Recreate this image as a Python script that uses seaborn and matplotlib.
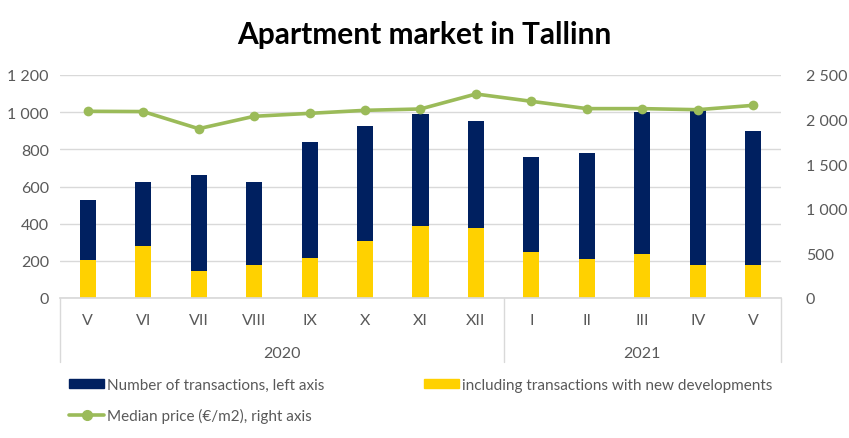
import matplotlib
matplotlib.use("Agg")
import pandas as pd
import numpy as np
import seaborn as sns
import matplotlib.pyplot as plt
from matplotlib.lines import Line2D
from matplotlib.patches import Patch
from matplotlib.ticker import FuncFormatter

# data
months = ['V', 'VI', 'VII', 'VIII', 'IX', 'X', 'XI', 'XII', 'I', 'II', 'III', 'IV', 'V']
years = ['2020'] * 8 + ['2021'] * 5
transactions = [527, 624, 662, 624, 840, 926, 990, 952, 759, 780, 1003, 1010, 899]
new_developments = [204, 280, 145, 178, 215, 307, 387, 377, 248, 210, 237, 178, 178]
median_price = [2093, 2090, 1898, 2037, 2070, 2104, 2119, 2287, 2205, 2123, 2123, 2111, 2160]

navy = '#002060'
yellow = '#FFD100'
green = '#9BBB59'
grey = '#595959'

sns.set_theme(style='white')
plt.rcParams['font.family'] = ['Lato', 'DejaVu Sans']

df = pd.DataFrame({'pos': [f'{i}' for i in range(len(months))],
                   'x': np.arange(len(months)),
                   'total': transactions, 'new': new_developments,
                   'price': median_price})

fig = plt.figure(figsize=(8.49, 4.39), dpi=100)
ax = fig.add_axes([60/849, 140/439, 721/849, 223/439])

sns.barplot(data=df, x='pos', y='total', color=navy, width=0.29, saturation=1,
            linewidth=0, ax=ax)
sns.barplot(data=df, x='pos', y='new', color=yellow, width=0.29, saturation=1,
            linewidth=0, ax=ax)
ax.set_xlim(-0.5, len(months) - 0.5)
ax.set_ylim(0, 1200)
ax.set_yticks(range(0, 1201, 200))
ax.yaxis.grid(True, color='#D9D9D9', linewidth=1)
ax.set_axisbelow(True)
ax.set_xlabel('')
ax.set_ylabel('')
ax.set_xticks(range(len(months)))
ax.set_xticklabels(months)
ax.tick_params(axis='both', length=0, labelsize=11.5, colors=grey)
ax.tick_params(axis='x', pad=11)
ax.tick_params(axis='y', pad=8)
fmt = FuncFormatter(lambda v, p: f'{int(v):,}'.replace(',', ' '))
ax.yaxis.set_major_formatter(fmt)
for s in ['top', 'right', 'left']:
    ax.spines[s].set_visible(False)
ax.spines['bottom'].set_color('#D9D9D9')

ax2 = ax.twinx()
sns.lineplot(data=df, x='x', y='price', color=green, linewidth=2.6, marker='o',
             markersize=7, markeredgewidth=0, ax=ax2)
ax2.set_ylim(0, 2500)
ax2.set_yticks(range(0, 2501, 500))
ax2.yaxis.set_major_formatter(fmt)
ax2.set_ylabel('')
ax2.tick_params(axis='y', length=0, labelsize=11.5, colors=grey, pad=18)
for s in ax2.spines.values():
    s.set_visible(False)

# year grouping under the month labels
trans = ax.get_xaxis_transform()
for xb in [-0.5, 7.5, 12.5]:
    ax.add_line(Line2D([xb, xb], [0, -0.285], transform=trans, color='#D9D9D9',
                       linewidth=1, clip_on=False))
ax.text(3.5, -0.245, '2020', transform=trans, ha='center', va='center', fontsize=11.5, color=grey)
ax.text(10, -0.245, '2021', transform=trans, ha='center', va='center', fontsize=11.5, color=grey)

fig.text(0.5, 1 - 35/439, 'Apartment market in Tallinn', ha='center', va='center',
         fontsize=21.5, fontweight='bold', color='black')

handles = [Patch(color=navy),
           Line2D([], [], color=green, linewidth=2.6, marker='o', markersize=7),
           Patch(color=yellow)]
labels = ['Number of transactions, left axis', 'Median price (€/m2), right axis',
          'including transactions with new developments']
leg = fig.legend(handles, labels, loc='upper left', bbox_to_anchor=(69/849, 1 - 379/439),
                 ncol=2, frameon=False, fontsize=11, handlelength=2.3, handleheight=0.6,
                 handletextpad=0.2, columnspacing=6.5, labelspacing=1.05,
                 borderaxespad=0, borderpad=0)
for t in leg.get_texts():
    t.set_color(grey)

fig.savefig('out.png', dpi=100, facecolor='white')
